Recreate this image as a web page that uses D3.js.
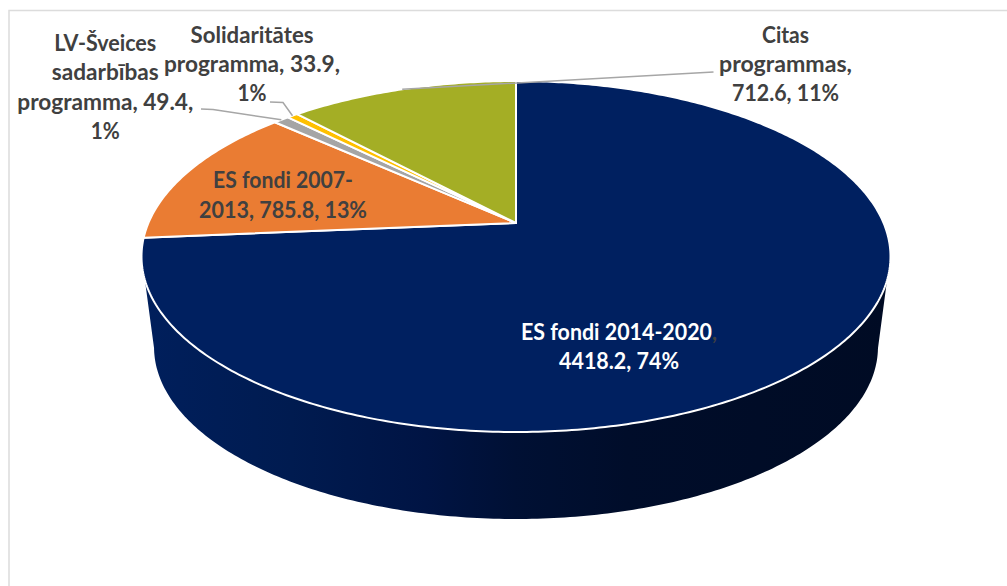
<!DOCTYPE html>
<html>
<head>
<meta charset="utf-8">
<script src="https://cdn.jsdelivr.net/npm/d3@7"></script>
<style>
  html, body { margin: 0; padding: 0; background: #fff; overflow: hidden; }
  text { font-family: Lato, "Open Sans", sans-serif; font-weight: 700; font-size: 22.5px; }
</style>
</head>
<body>
<div id="chart"></div>
<script>
// data
var categories = ["ES fondi 2014-2020", "ES fondi 2007-2013", "LV-Šveices sadarbības programma", "Solidaritātes programma", "Citas programmas"];
var values = [4418.2, 785.8, 49.4, 33.9, 712.6];
var colors = ["#002060", "#ea7c33", "#a5a5a5", "#ffc000", "#a4ae25"];
var labelLines = [
  ["ES fondi 2014-2020,", "4418.2, 74%"],
  ["ES fondi 2007-", "2013, 785.8, 13%"],
  ["LV-Šveices", "sadarbības", "programma, 49.4,", "1%"],
  ["Solidaritātes", "programma, 33.9,", "1%"],
  ["Citas", "programmas,", "712.6, 11%"]
];

// label placement: centre x, first baseline, line step, line widths, leader start
var labelPos = [
  { x: 619, y: 340, step: 29, widths: [196, 120] },
  { x: 283, y: 188, step: 30, widths: [140, 168] },
  { x: 105.3, y: 51, step: 29.4, widths: [102, 107, 176, 29], leader: [[201, 109], [213, 109.5]] },
  { x: 252, y: 43, step: 29, widths: [123, 176, 29], leader: [[270, 102], [283, 102.5]] },
  { x: 785.5, y: 43, step: 29, widths: [47, 133, 107], leader: [[713.5, 72]] }
];

var width = 1007, height = 586;

var svg = d3.select("#chart").append("svg")
  .attr("width", width)
  .attr("height", height);

// frame, open on the right and bottom
svg.append("path")
  .attr("d", d3.line()([[9, height], [9, 10.5], [width, 10.5]]))
  .attr("fill", "none")
  .attr("stroke", "#dcdcdc")
  .attr("stroke-width", 1.5);

// the pie is drawn in perspective, so the apex is not the ellipse centre
var tilt = 0.191;
var apex = [516, 223];
function projector(cx, cy, a, b) {
  return function (angle) {
    var u = Math.sin(angle), v = -Math.cos(angle), w = 1 - tilt * v;
    return [cx + a * u / w, cy + b * v / w];
  };
}
var topFace = projector(apex[0], apex[1], 367.6, 169.1);
var bottomFace = projector(apex[0], 314.2, 355.3, 165.7);

var pie = d3.pie().sort(null)(values);
var line = d3.line();

function arcPoints(face, start, end) {
  var n = Math.max(2, Math.ceil((end - start) * 80));
  return d3.range(n + 1).map(function (i) {
    return face(start + (end - start) * i / n);
  });
}

// side wall of the big slice
var defs = svg.append("defs");
var wallGrad = defs.append("linearGradient")
  .attr("id", "wall")
  .attr("gradientUnits", "userSpaceOnUse")
  .attr("x1", 142).attr("x2", 888).attr("y1", 0).attr("y2", 0);
[[0, "#001f5c"], [0.2, "#001b50"], [0.38, "#001444"], [0.5, "#001034"], [0.65, "#000d2a"], [1, "#000b24"]].forEach(function (s) {
  wallGrad.append("stop").attr("offset", s[0]).attr("stop-color", s[1]);
});

var navy = pie[0];
var wallTop = arcPoints(topFace, navy.startAngle, navy.endAngle).filter(function (p) { return p[1] >= 280; });
var wallBottom = arcPoints(bottomFace, navy.startAngle, navy.endAngle).filter(function (p) { return p[1] >= 347; });

svg.append("path")
  .attr("d", line(wallTop.concat(wallBottom.reverse())) + "Z")
  .attr("fill", "url(#wall)");

// top face slices
svg.append("g").selectAll("path")
  .data(pie)
  .enter()
  .append("path")
  .attr("d", function (d) {
    return line([apex].concat(arcPoints(topFace, d.startAngle, d.endAngle))) + "Z";
  })
  .attr("fill", function (d, i) { return colors[i]; })
  .attr("stroke", "#fff")
  .attr("stroke-width", 2)
  .attr("stroke-linejoin", "round");

// leader lines end at the middle of the slice edge
svg.append("g").selectAll("path")
  .data(pie.filter(function (d, i) { return labelPos[i].leader; }))
  .enter()
  .append("path")
  .attr("d", function (d) {
    var mid = (d.startAngle + d.endAngle) / 2;
    return line(labelPos[d.index].leader.concat([topFace(mid)]));
  })
  .attr("fill", "none")
  .attr("stroke", "#a6a6a6")
  .attr("stroke-width", 1.5);

// labels, one text per line fitted to the width in the original
var labels = svg.append("g").selectAll("g")
  .data(labelLines)
  .enter()
  .append("g")
  .attr("text-anchor", "middle")
  .attr("fill", function (d, i) { return i === 0 ? "#fff" : "#404040"; });

labels.each(function (lines, i) {
  var pos = labelPos[i];
  d3.select(this).selectAll("text")
    .data(lines)
    .enter()
    .append("text")
    .attr("x", pos.x)
    .attr("y", function (s, j) { return pos.y + j * pos.step; })
    .attr("textLength", function (s, j) { return pos.widths[j]; })
    .attr("lengthAdjust", "spacingAndGlyphs")
    .each(function (s, j) {
      var t = d3.select(this);
      // the comma after the first line of the big label stays dark in the original
      if (i === 0 && j === 0) {
        t.text(s.slice(0, -1));
        t.append("tspan").attr("fill", "#404040").text(",");
      } else {
        t.text(s);
      }
    });
});
</script>
</body>
</html>
